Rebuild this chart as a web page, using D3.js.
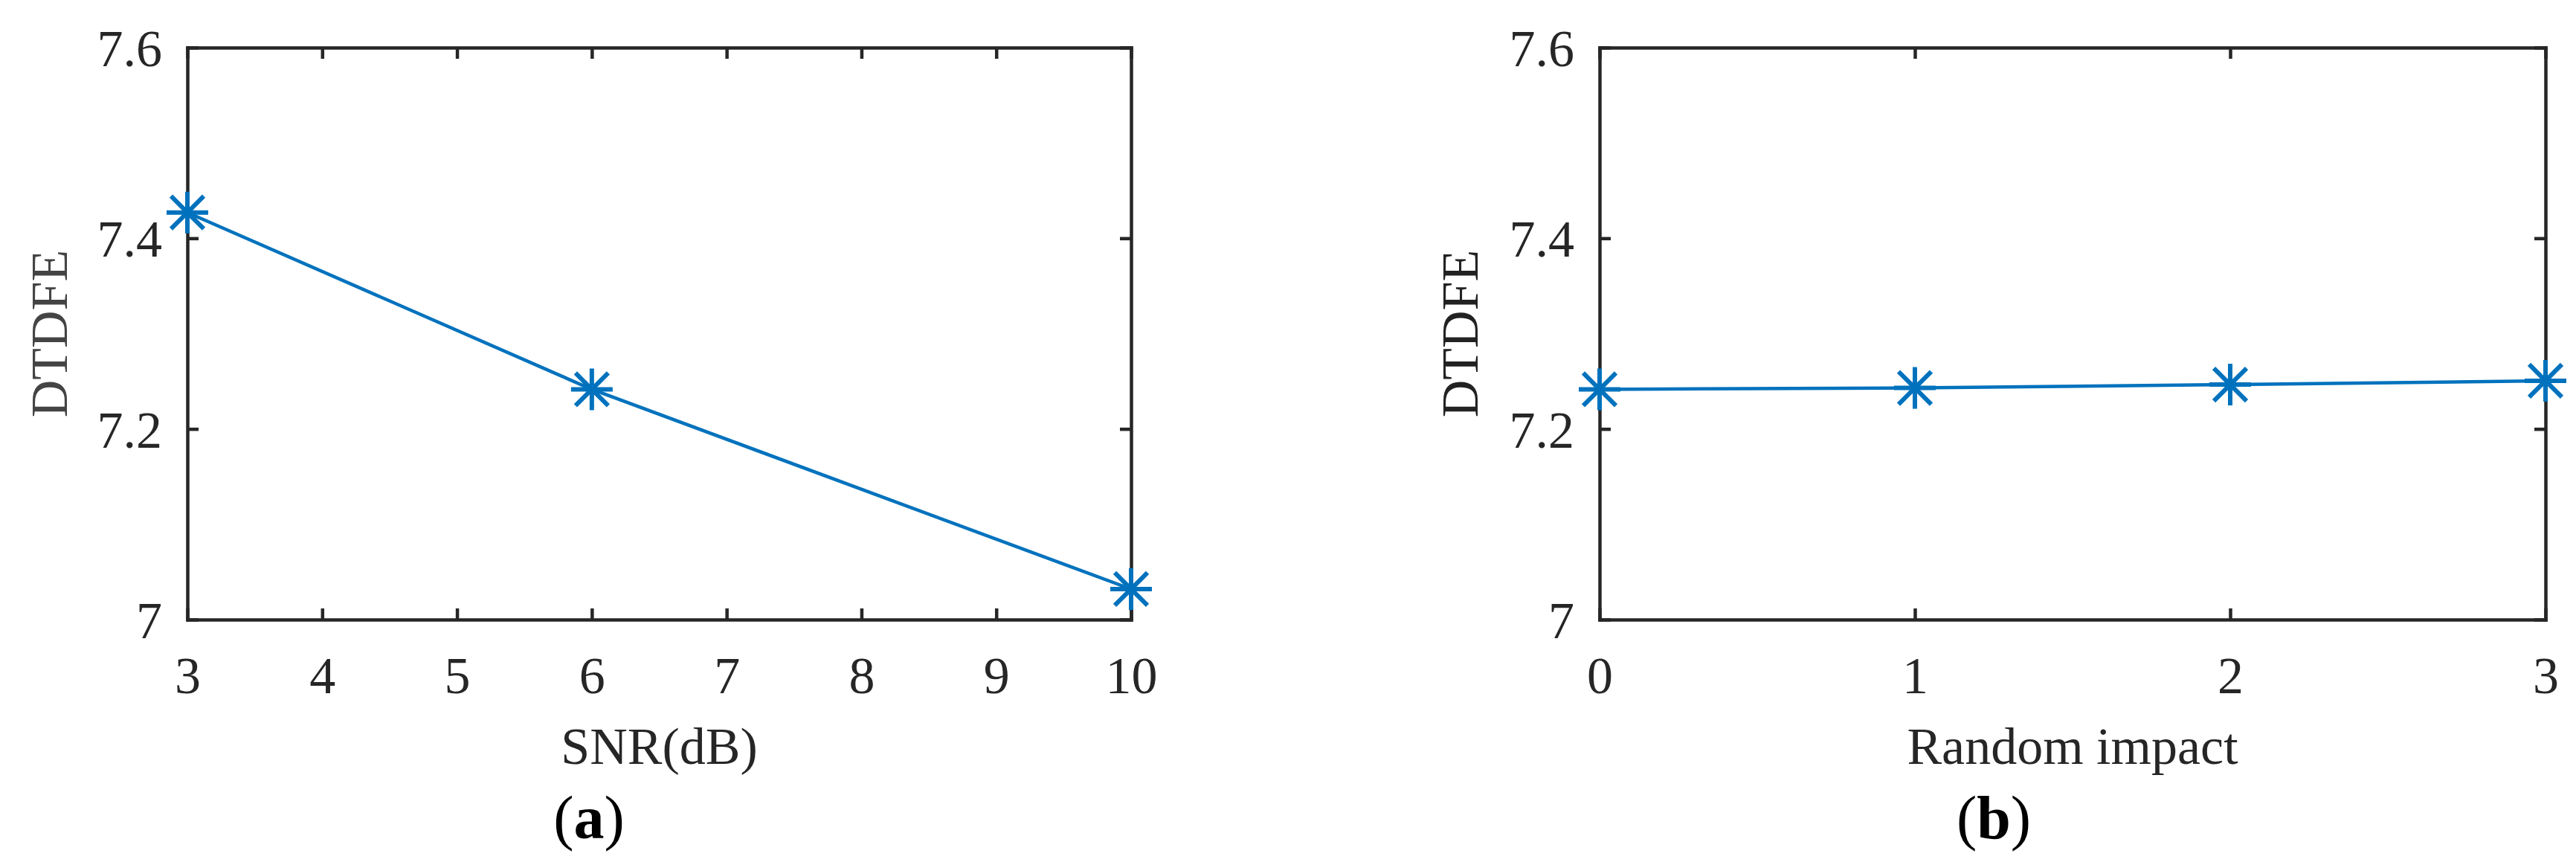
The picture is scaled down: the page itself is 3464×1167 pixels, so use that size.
<!DOCTYPE html>
<html>
<head>
<meta charset="utf-8">
<script src="https://cdn.jsdelivr.net/npm/d3@7"></script>
<style>
  html, body { margin: 0; padding: 0; background: #fff; }
  svg text { font-family: "Liberation Serif", "Times New Roman", serif; }
</style>
</head>
<body>
<svg id="chart" width="3464" height="1167"></svg>
<script>
// ---- data ----
const snrX = [3, 6, 10];
const snrY = [7.427, 7.2415, 7.032];
const snrTicks = [3, 4, 5, 6, 7, 8, 9, 10];

const randX = [0, 1, 2, 3];
const randY = [7.2415, 7.243, 7.2465, 7.2505];
const randTicks = [0, 1, 2, 3];

const yTicks = [7, 7.2, 7.4, 7.6];
const yDomain = [7, 7.6];

const panels = [
  { xs: snrX, ys: snrY, xTicks: snrTicks, xDomain: [3, 10], xLabel: "SNR(dB)", yLabel: "DTDFE",
    caption: "a", left: 252, right: 1521, yLabelX: 90, yLabelColor: "#444444", capX: 792 },
  { xs: randX, ys: randY, xTicks: randTicks, xDomain: [0, 3], xLabel: "Random impact", yLabel: "DTDFE",
    caption: "b", left: 2151, right: 3423, yLabelX: 1987, yLabelColor: "#222222", capX: 2681 }
];

const plotTop = 64, plotBottom = 833;
const axisColor = "#262626";
const lineColor = "#0072BD";
const tickLen = 15;
const fontSize = 70;

const svg = d3.select("#chart");

function fmtY(d) { return d === 7 ? "7" : d3.format(".1f")(d); }

panels.forEach(p => {
  const x = d3.scaleLinear().domain(p.xDomain).range([p.left, p.right]);
  const y = d3.scaleLinear().domain(yDomain).range([plotBottom, plotTop]);
  const g = svg.append("g");

  // bottom axis
  const gb = g.append("g").attr("transform", `translate(0,${plotBottom})`)
    .call(d3.axisBottom(x).tickValues(p.xTicks).tickSizeInner(-tickLen).tickSizeOuter(0).tickFormat(d3.format("d")));
  gb.selectAll("text").attr("y", 99).attr("dy", 0).attr("font-size", fontSize)
    .attr("fill", axisColor);
  gb.attr("font-family", null).attr("font-size", null);

  // top axis
  g.append("g").attr("transform", `translate(0,${plotTop})`)
    .call(d3.axisTop(x).tickValues(p.xTicks).tickSizeInner(-tickLen).tickSizeOuter(0).tickFormat(""));

  // left axis
  const gl = g.append("g").attr("transform", `translate(${p.left},0)`)
    .call(d3.axisLeft(y).tickValues(yTicks).tickSizeInner(-tickLen).tickSizeOuter(0).tickFormat(fmtY));
  gl.selectAll("text").attr("x", -34).attr("dy", "0.35em").attr("font-size", fontSize)
    .attr("fill", axisColor);
  gl.attr("font-family", null).attr("font-size", null);

  // right axis
  g.append("g").attr("transform", `translate(${p.right},0)`)
    .call(d3.axisRight(y).tickValues(yTicks).tickSizeInner(-tickLen).tickSizeOuter(0).tickFormat(""));

  g.selectAll(".domain").attr("stroke", axisColor).attr("stroke-width", 4.5).attr("stroke-linecap", "square");
  g.selectAll(".tick line").attr("stroke", axisColor).attr("stroke-width", 4.5);

  // axis labels
  g.append("text")
    .attr("x", (p.left + p.right) / 2).attr("y", 1027)
    .attr("text-anchor", "middle").attr("font-size", fontSize).attr("fill", axisColor)
    .text(p.xLabel);

  g.append("text")
    .attr("transform", `translate(${p.yLabelX},${(plotTop + plotBottom) / 2}) rotate(-90)`)
    .attr("text-anchor", "middle").attr("font-size", fontSize).attr("fill", p.yLabelColor)
    .text(p.yLabel);

  // caption
  const cap = g.append("text")
    .attr("x", p.capX).attr("y", 1127)
    .attr("text-anchor", "middle").attr("font-size", 82).attr("fill", "#000");
  cap.append("tspan").text("(");
  cap.append("tspan").attr("font-weight", "bold").text(p.caption);
  cap.append("tspan").text(")");

  // data line
  const pts = p.xs.map((v, i) => [v, p.ys[i]]);
  g.append("path").datum(pts)
    .attr("fill", "none").attr("stroke", lineColor).attr("stroke-width", 4.5)
    .attr("d", d3.line().x(d => x(d[0])).y(d => y(d[1])));

  // asterisk markers
  const r = 28, rd = 22;
  const m = g.selectAll(".mk").data(pts).join("g")
    .attr("class", "mk")
    .attr("transform", d => `translate(${x(d[0])},${y(d[1])})`)
    .attr("stroke", lineColor).attr("stroke-width", 6);
  m.append("line").attr("x1", -r).attr("x2", r).attr("y1", 0).attr("y2", 0);
  m.append("line").attr("x1", 0).attr("x2", 0).attr("y1", -r).attr("y2", r);
  m.append("line").attr("x1", -rd).attr("x2", rd).attr("y1", -rd).attr("y2", rd);
  m.append("line").attr("x1", -rd).attr("x2", rd).attr("y1", rd).attr("y2", -rd);
});
</script>
</body>
</html>
